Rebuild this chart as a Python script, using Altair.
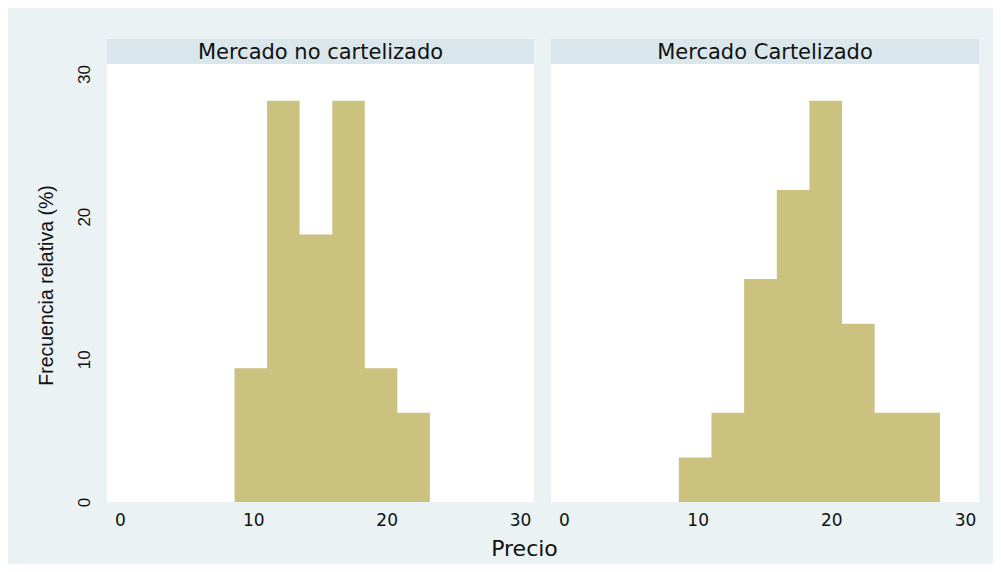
import altair as alt
import pandas as pd

# Bin edges (Precio) shared by both panels
bin_edges = [8.59, 11.03, 13.47, 15.92, 18.36, 20.80, 23.24, 25.68, 28.13]
# Relative frequency (%) per bin
pct_no_cartel = [9.375, 28.125, 18.75, 28.125, 9.375, 6.25, 0, 0]
pct_cartel = [3.125, 6.25, 15.625, 21.875, 28.125, 12.5, 6.25, 6.25]
panel_titles = ["Mercado no cartelizado", "Mercado Cartelizado"]
x_ticks = [0, 10, 20, 30]
y_ticks = [0, 10, 20, 30]

BAR = "#ccc280"
BG = "#eaf2f3"
STRIP = "#d9e6eb"
FONT = "Liberation Sans"
WFONT = "DejaVu Sans"

PW_L, PW_R, PH = 427, 428, 463
STRIP_H = 25
X_DOM = [-0.975, 31.05]
Y_DOM = [0, 32.45]


def make_df(vals):
    # histogram outline as a step function: each edge carries the height of the bin starting there
    n = max(i for i, v in enumerate(vals) if v > 0) + 1
    xs = bin_edges[: n + 1]
    ys = list(vals[:n]) + [vals[n - 1]]
    return pd.DataFrame({"edge": xs, "pct": ys})


def panel(vals, title, width, show_y):
    df = make_df(vals)
    if show_y:
        xaxis = alt.Axis(
            values=x_ticks, ticks=False, domain=False, grid=False, labelPadding=10,
            labelFontSize=17, labelFont=WFONT, labelColor="#111",
            title="Precio", titleFontSize=22, titleFont=WFONT, titleFontWeight="normal",
            titleColor="#111", titleX=417, titleY=53, titleAlign="center",
            titleBaseline="alphabetic",
        )
        yaxis = alt.Axis(
            values=y_ticks, ticks=False, domain=False, grid=False, labelAngle=270,
            labelPadding=14, labelFontSize=17, labelFont=FONT, labelColor="#111",
            title="Frecuencia relativa (%)", titleFontSize=19.5, titleFont=FONT,
            titleFontWeight="normal", titleColor="#111", titleAngle=270,
            titleX=-61, titleY=246, titleAlign="center", titleBaseline="middle",
        )
    else:
        xaxis = alt.Axis(
            values=x_ticks, ticks=False, domain=False, grid=False, labelPadding=10,
            labelFontSize=17, labelFont=WFONT, labelColor="#111", title=None,
        )
        yaxis = None

    bars = alt.Chart(df).mark_area(
        color=BAR, interpolate="step-after", opacity=1
    ).encode(
        x=alt.X("edge:Q", scale=alt.Scale(domain=X_DOM, nice=False, zero=False), axis=xaxis),
        y=alt.Y("pct:Q", scale=alt.Scale(domain=Y_DOM, nice=False), axis=yaxis, stack=None),
    )
    strip = alt.Chart(pd.DataFrame({"t": [title]})).mark_rect(color=STRIP, opacity=1).encode(
        x=alt.value(0), x2=alt.value(width), y=alt.value(0), y2=alt.value(STRIP_H)
    )
    label = alt.Chart(pd.DataFrame({"t": [title]})).mark_text(
        font=WFONT, fontSize=21, color="#111", baseline="middle", align="center"
    ).encode(text="t:N", x=alt.value(width / 2), y=alt.value(STRIP_H / 2 + 1))
    return alt.layer(bars, strip, label).properties(width=width, height=PH)


left = panel(pct_no_cartel, panel_titles[0], PW_L, True)
right = panel(pct_cartel, panel_titles[1], PW_R, False)

chart = alt.hconcat(left, right, spacing=17, bounds="flush").properties(
    background=BG,
    padding={"left": 28, "top": 31, "right": 14, "bottom": 5},
).configure_view(fill="white", stroke=None)

chart.save("out.html", embed_options={"renderer": "svg", "actions": False})
